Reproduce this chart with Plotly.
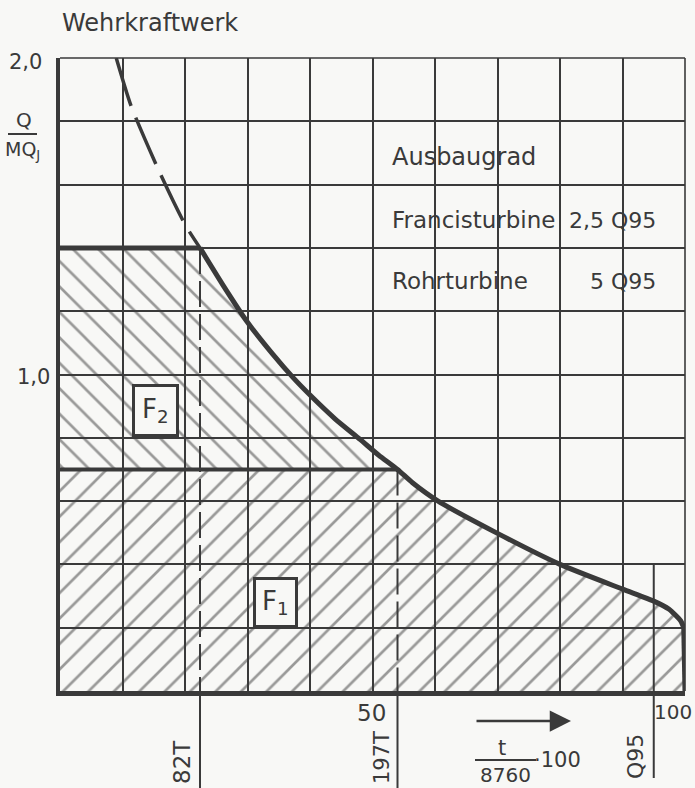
import plotly.graph_objects as go

# ---- data (duration curve, Q/MQ_J over t/8760*100) ----
t_pct = [9.0, 11.4, 16.05, 20.0, 22.4, 26.0, 30.0, 34.0, 37.3, 40.0, 44.0, 48.0,
         51.0, 54.0, 56.4, 60.5, 70.0, 80.0, 90.0, 95.0, 97.4, 99.3, 99.8, 100.0]
q_rel = [2.0, 1.847, 1.634, 1.474, 1.40, 1.285, 1.165, 1.065, 0.99, 0.935, 0.86, 0.795,
         0.745, 0.70, 0.658, 0.60, 0.498, 0.40, 0.322, 0.284, 0.259, 0.222, 0.20, 0.0]

t_rohr, q_rohr = 22.4, 1.40        # 82 T, Rohrturbine 5 Q95
t_francis, q_francis = 54.0, 0.70  # 197 T, Francisturbine 2,5 Q95
t_q95 = 95.0

x_range = [0, 100]
y_range = [0, 2.0]

INK = "#3a3a3a"
BG = "#f8f8f6"
FONT = "DejaVu Sans, Liberation Sans, sans-serif"

W, H = 695, 788
ML, MR, MT, MB = 60, 10, 58, 97
PW, PH = W - ML - MR, H - MT - MB


def px(xp):
    return (xp - ML) / PW


def py(yp):
    return (H - MB - yp) / PH


i_r = t_pct.index(t_rohr)
i_f = t_pct.index(t_francis)

fig = go.Figure()

# F1 hatched area (below Francis line and curve)
f1_x = [0] + t_pct[i_f:] + [0]
f1_y = [q_francis] + q_rel[i_f:] + [0]
fig.add_trace(go.Scatter(
    x=f1_x, y=f1_y, fill="toself", mode="lines", line=dict(width=0),
    fillcolor="rgba(0,0,0,0)",
    fillpattern=dict(shape="/", size=18, solidity=0.15, fgcolor=INK, bgcolor="rgba(0,0,0,0)"),
    hoverinfo="skip", showlegend=False))

# F2 hatched area (between Francis line and Rohr cap / curve)
f2_x = [0, 0] + t_pct[i_r:i_f + 1]
f2_y = [q_francis, q_rohr] + q_rel[i_r:i_f + 1]
fig.add_trace(go.Scatter(
    x=f2_x, y=f2_y, fill="toself", mode="lines", line=dict(width=0),
    fillcolor="rgba(0,0,0,0)",
    fillpattern=dict(shape="\\", size=18, solidity=0.15, fgcolor=INK, bgcolor="rgba(0,0,0,0)"),
    hoverinfo="skip", showlegend=False))

# vertical dashed lines at 82 T and 197 T
for tx, qy in [(t_rohr, q_rohr), (t_francis, q_francis)]:
    fig.add_trace(go.Scatter(x=[tx, tx], y=[qy, 0], mode="lines",
                             line=dict(color=INK, width=2, dash="26px,7px"),
                             hoverinfo="skip", showlegend=False))

# dashed (unused) upper part of the duration curve
fig.add_trace(go.Scatter(x=t_pct[:i_r + 1], y=q_rel[:i_r + 1], mode="lines",
                         line=dict(color=INK, width=3.5, dash="50px,13px",
                                   shape="spline", smoothing=0.6),
                         hoverinfo="skip", showlegend=False))
# solid part of the curve
fig.add_trace(go.Scatter(x=t_pct[i_r:-1], y=q_rel[i_r:-1], mode="lines",
                         line=dict(color=INK, width=5, shape="spline", smoothing=0.6),
                         hoverinfo="skip", showlegend=False))
fig.add_trace(go.Scatter(x=t_pct[-2:], y=q_rel[-2:], mode="lines",
                         line=dict(color=INK, width=5),
                         hoverinfo="skip", showlegend=False))
# design flows (horizontal caps)
fig.add_trace(go.Scatter(x=[0, t_rohr], y=[q_rohr, q_rohr], mode="lines",
                         line=dict(color=INK, width=5), hoverinfo="skip", showlegend=False))
fig.add_trace(go.Scatter(x=[0, t_francis], y=[q_francis, q_francis], mode="lines",
                         line=dict(color=INK, width=4), hoverinfo="skip", showlegend=False))

shapes = [
    # top and right frame (grid lines at 2,0 and 100)
    dict(type="line", xref="paper", yref="paper", x0=0, x1=1, y0=1, y1=1,
         line=dict(color=INK, width=1.6)),
    dict(type="line", xref="paper", yref="paper", x0=1, x1=1, y0=0, y1=1,
         line=dict(color=INK, width=1.6)),
    # lines below the axis to labels
    dict(type="line", xref="x", yref="paper", x0=t_rohr, x1=t_rohr, y0=0, y1=py(790),
         line=dict(color=INK, width=2)),
    dict(type="line", xref="x", yref="paper", x0=t_francis, x1=t_francis, y0=0, y1=py(790),
         line=dict(color=INK, width=2)),
    dict(type="line", xref="x", yref="paper", x0=t_q95, x1=t_q95,
         y0=0.4 / y_range[1], y1=py(778), line=dict(color=INK, width=2)),
    # fraction bars
    dict(type="line", xref="paper", yref="paper", x0=px(475), x1=px(536), y0=py(760), y1=py(760),
         line=dict(color=INK, width=2)),
    dict(type="line", xref="paper", yref="paper", x0=px(8), x1=px(37), y0=py(134), y1=py(134),
         line=dict(color=INK, width=2)),
]


def ann(text, xp, yp, size=22, xanchor="center", yanchor="middle", angle=0, **kw):
    d = dict(text=text, x=px(xp), y=py(yp), xref="paper", yref="paper", showarrow=False,
             xanchor=xanchor, yanchor=yanchor, textangle=angle,
             font=dict(family=FONT, size=size, color=INK))
    d.update(kw)
    return d


annotations = [
    ann("Wehrkraftwerk", 60, 23, size=24, xanchor="left"),
    ann("2,0", 25, 62, size=21),
    ann("1,0", 33, 377, size=21),
    ann("Q", 24, 120, size=20),
    ann("MQ<sub>J</sub>", 22, 151, size=19),
    ann("Ausbaugrad", 390, 157, size=24, xanchor="left"),
    ann("Francisturbine", 390, 220, size=23, xanchor="left"),
    ann("2,5 Q95", 658, 220, size=22, xanchor="right"),
    ann("Rohrturbine", 390, 281, size=23, xanchor="left"),
    ann("5 Q95", 658, 281, size=22, xanchor="right"),
    ann("50", 371, 713, size=23),
    ann("100", 694, 712, size=20, xanchor="right"),
    ann("82T", 182, 762, size=23, angle=-90),
    ann("197T", 382, 758, size=21, angle=-90),
    ann("Q95", 635, 757, size=22, angle=-90),
    ann("t", 502, 748, size=21),
    ann("8760", 505, 775, size=20),
    ann("·100", 557, 760, size=21),
    # F labels in boxes (placed in data coordinates)
    dict(text="F<sub>2</sub>", x=15.3, y=0.885, xref="x", yref="y", showarrow=False,
         font=dict(family=FONT, size=26, color=INK), bgcolor=BG,
         bordercolor=INK, borderwidth=3, borderpad=7),
    dict(text="F<sub>1</sub>", x=34.5, y=0.28, xref="x", yref="y", showarrow=False,
         font=dict(family=FONT, size=26, color=INK), bgcolor=BG,
         bordercolor=INK, borderwidth=3, borderpad=6),
    # arrow for time axis
    dict(text="", x=px(571), y=py(721), xref="paper", yref="paper",
         ax=-96, ay=0, showarrow=True,
         arrowhead=2, arrowsize=1.7, arrowwidth=2.5, arrowcolor=INK),
]

fig.update_layout(
    width=W, height=H,
    margin=dict(l=ML, r=MR, t=MT, b=MB),
    paper_bgcolor=BG, plot_bgcolor=BG,
    shapes=shapes, annotations=annotations,
    showlegend=False,
    xaxis=dict(range=x_range, dtick=10, showgrid=True, gridcolor=INK, gridwidth=1.6,
               showticklabels=False, zeroline=False, showline=True, linecolor=INK,
               linewidth=5, ticks=""),
    yaxis=dict(range=y_range, dtick=0.2, showgrid=True, gridcolor=INK, gridwidth=1.6,
               showticklabels=False, zeroline=False, showline=True, linecolor=INK,
               linewidth=4, ticks=""),
)

fig.write_html("out.html", config={"displayModeBar": False},
               post_script="document.body.style.margin='0px';")
